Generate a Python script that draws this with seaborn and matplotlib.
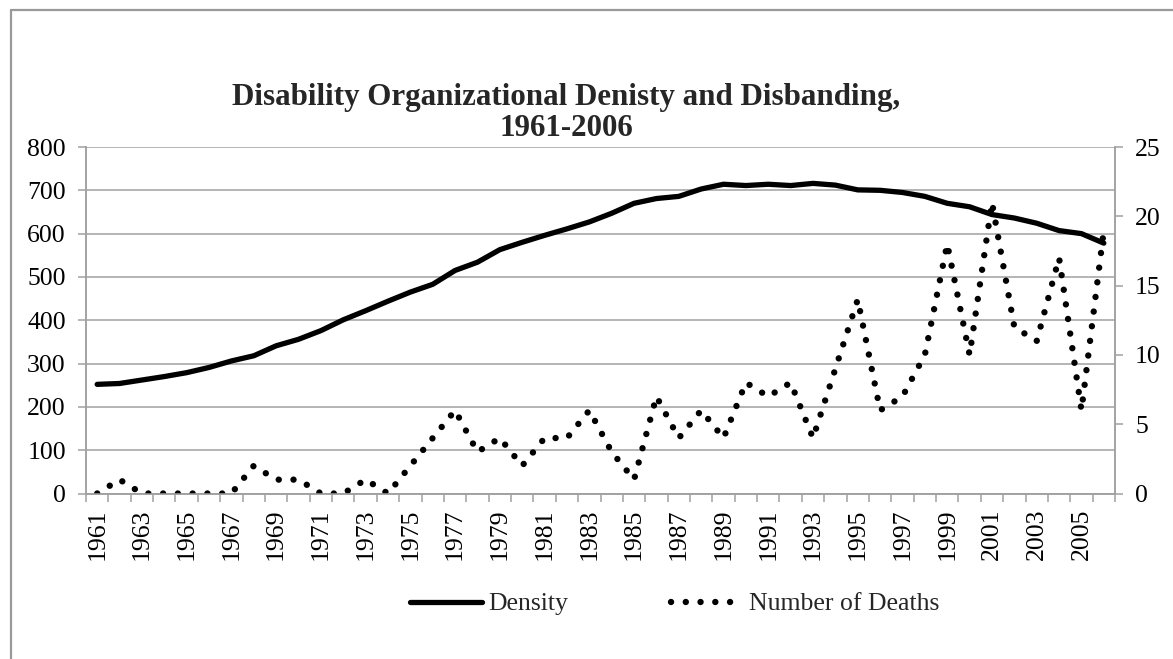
import numpy as np
import pandas as pd
import seaborn as sns
import matplotlib
matplotlib.use("Agg")
from matplotlib import pyplot as plt
from matplotlib.lines import Line2D

years = list(range(1961, 2007))
density = [252, 254, 262, 270, 279, 291, 306, 318, 341, 356, 376, 401, 422, 444,
           465, 483, 515, 534, 563, 580, 596, 611, 627, 647, 670, 681, 686, 703,
           714, 711, 714, 711, 716, 712, 701, 700, 695, 686, 670, 662, 644, 636,
           624, 607, 600, 578]
deaths = [0, 1, 0, 0, 0, 0, 0, 2, 1, 1, 0, 0, 1, 0, 2, 4, 6, 3, 4, 2, 4, 4, 6,
          3, 1, 7, 4, 6, 4, 8, 7, 8, 4, 9, 14, 6, 7, 10, 18, 10, 21, 12, 11, 17,
          6, 19]
title = "Disability Organizational Denisty and Disbanding,\n1961-2006"

sns.set_theme(style="white")
plt.rcParams["font.family"] = ["Liberation Serif", "DejaVu Serif"]

df = pd.DataFrame({"pos": np.arange(len(years)), "year": years,
                   "Density": density, "Number of Deaths": deaths})

grid_c = "#a0a0a0"
fig = plt.figure(figsize=(11.73, 6.59), dpi=100)
ax = fig.add_axes([86 / 1173, 1 - 493.5 / 659, (1115 - 86) / 1173, (493.5 - 147) / 659])
ax2 = ax.twinx()

sns.lineplot(data=df, x="pos", y="Density", ax=ax, color="black", lw=3.8,
             solid_capstyle="round", label="Density", legend=False)
sns.lineplot(data=df, x="pos", y="Number of Deaths", ax=ax2, color="black", lw=4.6,
             linestyle=(0, (0.01, 2.3)), dash_capstyle="round",
             label="Number of Deaths", legend=False)

ax.set_xlim(-0.5, len(years) - 0.5)
ax.set_ylim(0, 800)
ax2.set_ylim(0, 25)
ax.set_yticks(range(0, 801, 100))
ax2.set_yticks(range(0, 26, 5))
ax.set_xlabel("")
ax.set_ylabel("")
ax2.set_ylabel("")

ax.set_xticks(df["pos"][::2])
ax.set_xticklabels(df["year"][::2], rotation=90)
ax.set_xticks(np.arange(-0.5, len(years), 1), minor=True)
ax.grid(axis="y", color=grid_c, lw=1.1)
ax.set_axisbelow(True)

for a in (ax, ax2):
    for s in a.spines.values():
        s.set_color(grid_c)
        s.set_linewidth(1.1)
    a.spines["top"].set_visible(False)
ax.tick_params(axis="x", which="major", length=0, pad=11, labelsize=18.5, colors="black")
ax.tick_params(axis="x", which="minor", length=5.5, width=1.1, color=grid_c, bottom=True)
ax.tick_params(axis="y", length=5.5, width=1.1, color=grid_c, pad=9, labelsize=18.5,
               labelcolor="black", left=True)
ax2.tick_params(axis="y", length=5.5, width=1.1, color=grid_c, pad=9, labelsize=18.5,
                labelcolor="black", right=True)

fig.text(0.483, 1 - 113 / 659, title, ha="center", va="center", fontsize=22.3,
         fontweight="bold", linespacing=1.12)

h1, l1 = ax.get_legend_handles_labels()
h2, l2 = ax2.get_legend_handles_labels()
fig.legend(h1 + h2, l1 + l2, loc="center", bbox_to_anchor=(0.575, 1 - 604 / 659),
           ncol=2, frameon=False, fontsize=18.5, handlelength=2.8, handletextpad=0.25,
           columnspacing=4.0)

fig.add_artist(Line2D([11 / 1173, 11 / 1173], [0, 1 - 10 / 659], color="#999999", lw=1.6))
fig.add_artist(Line2D([11 / 1173, 1], [1 - 10 / 659, 1 - 10 / 659], color="#999999", lw=1.6))

fig.savefig("out.png", dpi=100)
